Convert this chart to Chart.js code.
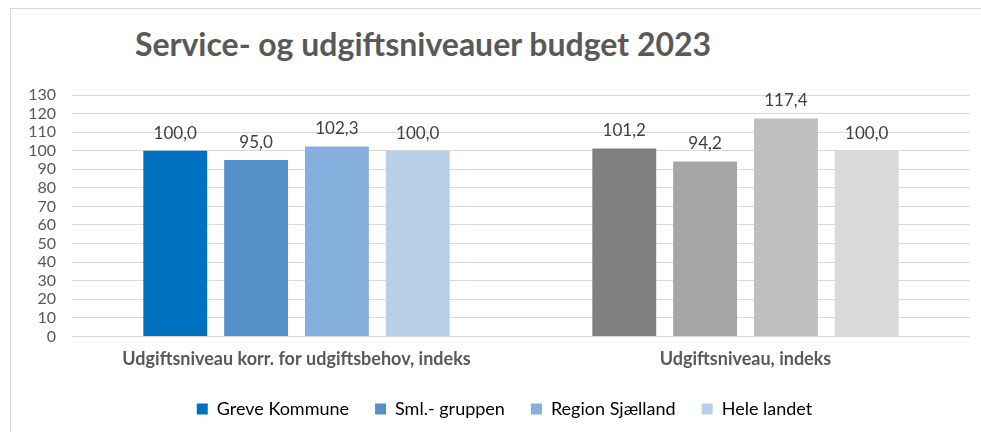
<!DOCTYPE html>
<html>
<head>
<meta charset="utf-8">
<script src="https://cdn.jsdelivr.net/npm/chart.js@4"></script>
<style>
  html, body { margin: 0; padding: 0; background: #fff; }
  #wrap { position: relative; width: 981px; height: 432px; overflow: hidden; }
  #frame { position: absolute; left: 10px; top: 8px; width: 980px; height: 440px; border: 1px solid #d9d9d9; box-sizing: border-box; }
  #title { position: absolute; left: 0; top: 24px; width: 846px; text-align: center;
           font: bold 32px Lato, sans-serif; color: #595959; }
  canvas { position: absolute; left: 0; top: 0; }
</style>
</head>
<body>
<div id="wrap">
  <div id="frame"></div>
  <div id="title">Service- og udgiftsniveauer budget 2023</div>
  <canvas id="chart" width="981" height="432"></canvas>
</div>
<script>
// ===== Data =====
const categories = ['Udgiftsniveau korr. for udgiftsbehov, indeks', 'Udgiftsniveau, indeks'];
const seriesNames = ['Greve Kommune', 'Sml.- gruppen', 'Region Sjælland', 'Hele landet'];
const greve = [100.0, 101.2];
const smlGruppen = [95.0, 94.2];
const regionSjaelland = [102.3, 117.4];
const heleLandet = [100.0, 100.0];
const yTicks = [0, 130, 10]; // min, max, step

// colours: first group blue, second group gray
const blues = ['#0070c0', '#5591c8', '#85afdc', '#b8cfea'];
const grays = ['#7f7f7f', '#a5a5a5', '#bfbfbf', '#d9d9d9'];

const seriesValues = [greve, smlGruppen, regionSjaelland, heleLandet];

// value labels above bars, danish decimal comma
const valueLabels = {
    id: 'valueLabels',
    afterDatasetsDraw(chart) {
        const ctx = chart.ctx;
        ctx.save();
        ctx.font = '17px Lato';
        ctx.fillStyle = '#404040';
        ctx.textAlign = 'center';
        ctx.textBaseline = 'bottom';
        chart.data.datasets.forEach((ds, i) => {
            chart.getDatasetMeta(i).data.forEach((bar, j) => {
                ctx.fillText(ds.data[j].toFixed(1).replace('.', ','), bar.x, bar.y - 9);
            });
        });
        ctx.restore();
    }
};

// nudge the legend a bit to the right, like in the original
const legendShift = {
    id: 'legendShift',
    afterLayout(chart) {
        chart.legend.left += 29;
    }
};

new Chart(document.getElementById('chart'), {
    type: 'bar',
    data: {
        labels: categories,
        datasets: seriesNames.map((name, i) => ({
            label: name,
            data: seriesValues[i],
            backgroundColor: [blues[i], grays[i]],
            borderWidth: 0,
            categoryPercentage: 0.72,
            barPercentage: 0.79
        }))
    },
    options: {
        responsive: false,
        animation: false,
        layout: { padding: { top: 95, left: 10, right: 11, bottom: 4 } },
        plugins: {
            title: { display: false },
            tooltip: { enabled: false },
            legend: {
                position: 'bottom',
                labels: {
                    boxWidth: 11,
                    boxHeight: 11,
                    padding: 26,
                    color: '#595959',
                    font: { family: 'Lato', size: 18 },
                    generateLabels: chart => seriesNames.map((name, i) => ({
                        text: name,
                        fillStyle: blues[i],
                        strokeStyle: blues[i],
                        lineWidth: 0,
                        datasetIndex: i
                    }))
                }
            }
        },
        scales: {
            x: {
                grid: { display: false },
                border: { display: false },
                ticks: {
                    color: '#595959',
                    padding: 4,
                    font: { family: 'Lato', size: 18, weight: 'bold' }
                }
            },
            y: {
                min: yTicks[0],
                max: yTicks[1],
                afterFit: scale => { scale.width = 62; },
                grid: { color: '#d9d9d9', drawTicks: false },
                border: { display: false },
                ticks: {
                    stepSize: yTicks[2],
                    autoSkip: false,
                    padding: 16,
                    color: '#595959',
                    font: { family: 'Lato', size: 16 }
                }
            }
        }
    },
    plugins: [valueLabels, legendShift]
});
</script>
</body>
</html>
